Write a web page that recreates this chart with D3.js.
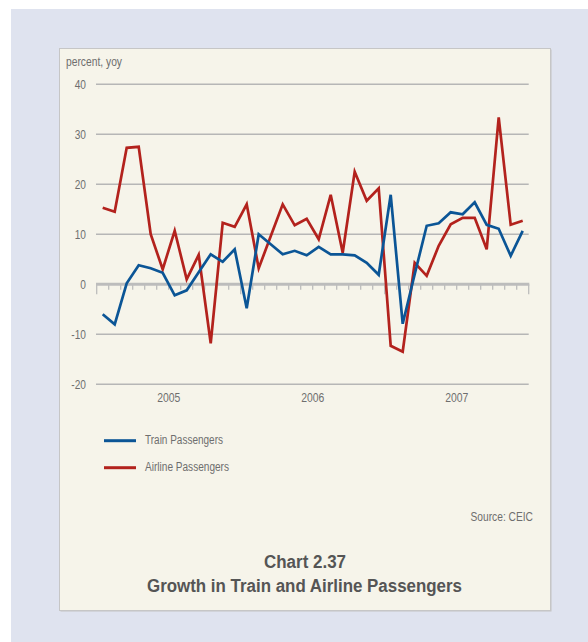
<!DOCTYPE html>
<html>
<head>
<meta charset="utf-8">
<script src="https://cdn.jsdelivr.net/npm/d3@7/dist/d3.min.js"></script>
<style>
  html, body { margin: 0; padding: 0; background: #ffffff; }
  svg { display: block; }
  text { font-family: "Liberation Sans", Arial, Helvetica, sans-serif; }
</style>
</head>
<body>
<svg id="chart" width="588" height="642"></svg>
<script>
// Monthly year-on-year growth, Jan 2005 – Dec 2007
const years = ["2005", "2006", "2007"];
const yTicks = [-20, -10, 0, 10, 20, 30, 40];

const trainPassengers = [
  -6.0, -8.0, 0.2, 3.8, 3.2, 2.3, -2.2, -1.2, 2.4, 6.0, 4.5, 7.0,
  -4.8, 10.0, 8.0, 6.0, 6.7, 5.8, 7.5, 6.0, 6.0, 5.8, 4.3, 1.9,
  17.9, -7.9, 2.0, 11.7, 12.2, 14.4, 14.0, 16.4, 11.9, 11.1, 5.7, 10.7
];
const airlinePassengers = [
  15.3, 14.5, 27.3, 27.5, 10.0, 3.0, 10.7, 1.0, 5.9, -11.8, 12.3, 11.5,
  16.0, 3.2, 9.6, 16.0, 11.8, 13.1, 9.0, 17.9, 6.3, 22.5, 16.7, 19.2,
  -12.3, -13.5, 4.3, 1.7, 7.7, 12.0, 13.3, 13.3, 7.0, 33.4, 11.9, 12.7
];

const seriesNames = ["Train Passengers", "Airline Passengers"];
const seriesColors = ["#0b5596", "#b3221d"];

const months = d3.range(trainPassengers.length); // month index 0..35

const svg = d3.select("#chart");

// squeeze text horizontally to give a condensed face
function condense(sel, factor) {
  sel.each(function () {
    const w = this.getComputedTextLength();
    d3.select(this).attr("textLength", w * factor).attr("lengthAdjust", "spacingAndGlyphs");
  });
  return sel;
}
function fitTo(sel, width) {
  return sel.attr("textLength", width).attr("lengthAdjust", "spacingAndGlyphs");
}

// page backdrop and panel
svg.append("rect").attr("x", 11).attr("y", 9).attr("width", 577).attr("height", 633).attr("fill", "#dfe3ef");
svg.append("rect").attr("x", 60.5).attr("y", 49.5).attr("width", 491).attr("height", 562).attr("fill", "#c4c4c4");
svg.append("rect").attr("x", 59.5).attr("y", 48.5).attr("width", 491).attr("height", 562)
  .attr("fill", "#f6f4ea").attr("stroke", "#c6c6c6").attr("stroke-width", 1);

const plotLeft = 96.7, plotRight = 528.7, plotTop = 84.3, plotBottom = 384.3;

const x = d3.scaleBand().domain(months).range([plotLeft, plotRight]).paddingInner(0).paddingOuter(0);
const y = d3.scaleLinear().domain([-20, 40]).range([plotBottom, plotTop]);

const textColor = "#6e6e6e";

// horizontal gridlines
svg.append("g").selectAll("line")
  .data(yTicks.filter(d => d !== 0))
  .join("line")
  .attr("x1", plotLeft - 0.7).attr("x2", plotRight)
  .attr("y1", d => y(d)).attr("y2", d => y(d))
  .attr("stroke", "#b6b6b6").attr("stroke-width", 1.4);

// y tick labels
condense(svg.append("g").selectAll("text")
  .data(yTicks)
  .join("text")
  .attr("x", 86).attr("y", d => y(d))
  .attr("dy", "0.36em")
  .attr("text-anchor", "end")
  .attr("font-size", 13)
  .attr("fill", textColor)
  .text(d => d), 0.78);

// axis label
fitTo(svg.append("text")
  .attr("x", 66).attr("y", 66)
  .attr("font-size", 12)
  .attr("fill", textColor)
  .text("percent, yoy"), 56);

// zero line with monthly ticks
const tickG = svg.append("g");
tickG.selectAll("line.tick")
  .data(d3.range(months.length + 1))
  .join("line")
  .attr("class", "tick")
  .attr("x1", d => plotLeft + d * x.step()).attr("x2", d => plotLeft + d * x.step())
  .attr("y1", y(0))
  .attr("y2", d => y(0) + (d % 12 === 0 ? 10 : 5.5))
  .attr("stroke", "#bcbcbc").attr("stroke-width", 1.3);
tickG.append("line")
  .attr("x1", plotLeft - 0.7).attr("x2", plotRight + 0.6)
  .attr("y1", y(0)).attr("y2", y(0))
  .attr("stroke", "#bcbcbc").attr("stroke-width", 3);

// year labels centred under each year
condense(svg.append("g").selectAll("text")
  .data(years)
  .join("text")
  .attr("x", (d, i) => plotLeft + (i * 12 + 6) * x.step())
  .attr("y", 397)
  .attr("dy", "0.36em")
  .attr("text-anchor", "middle")
  .attr("font-size", 13)
  .attr("fill", textColor)
  .text(d => d), 0.8);

// series lines
const line = d3.line()
  .x((d, i) => x(i) + x.bandwidth() / 2)
  .y(d => y(d))
  .curve(d3.curveLinear);

[airlinePassengers, trainPassengers].forEach((vals, k) => {
  const idx = k === 0 ? 1 : 0;
  svg.append("path")
    .datum(vals)
    .attr("d", line)
    .attr("fill", "none")
    .attr("stroke", seriesColors[idx])
    .attr("stroke-width", 2.7)
    .attr("stroke-linejoin", "miter");
});

// legend
const legendWidths = [78, 84];
const legend = svg.append("g");
seriesNames.forEach((name, i) => {
  const ly = 440.7 + i * 27;
  legend.append("line")
    .attr("x1", 104).attr("x2", 136)
    .attr("y1", ly).attr("y2", ly)
    .attr("stroke", seriesColors[i]).attr("stroke-width", 3);
  fitTo(legend.append("text")
    .attr("x", 145).attr("y", ly - 1.5)
    .attr("dy", "0.36em")
    .attr("font-size", 12.5)
    .attr("fill", textColor)
    .text(name), legendWidths[i]);
});

// source note
fitTo(svg.append("text")
  .attr("x", 533).attr("y", 516)
  .attr("dy", "0.36em")
  .attr("text-anchor", "end")
  .attr("font-size", 12.5)
  .attr("fill", textColor)
  .text("Source: CEIC"), 62.5);

// chart title
fitTo(svg.append("text")
  .attr("x", 305).attr("y", 568)
  .attr("text-anchor", "middle")
  .attr("font-size", 18)
  .attr("font-weight", "bold")
  .attr("fill", "#555555")
  .text("Chart 2.37"), 82);
fitTo(svg.append("text")
  .attr("x", 304.5).attr("y", 592)
  .attr("text-anchor", "middle")
  .attr("font-size", 18)
  .attr("font-weight", "bold")
  .attr("fill", "#555555")
  .text("Growth in Train and Airline Passengers"), 315);
</script>
</body>
</html>
